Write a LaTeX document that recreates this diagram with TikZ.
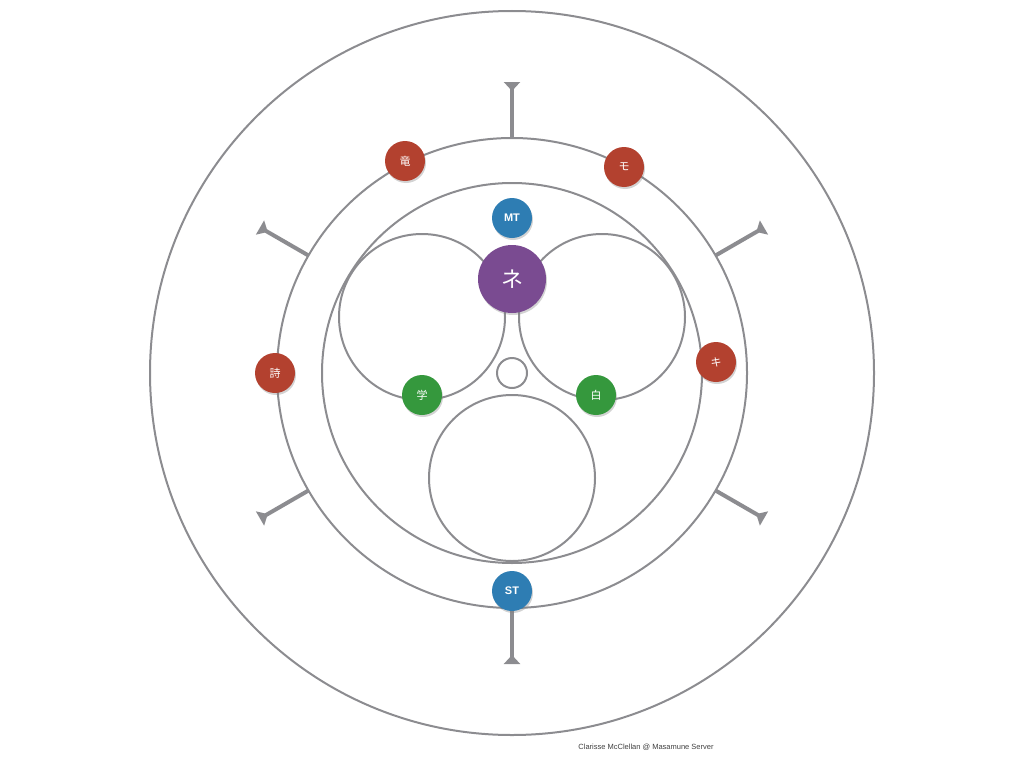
\documentclass[tikz,border=0pt]{standalone}
\usepackage{fontspec}
\setmainfont{Liberation Sans}
\newfontfamily\cjk{Noto Sans CJK JP}
\usetikzlibrary{arrows.meta,shadows}
\definecolor{ringgray}{HTML}{8C8C90}
\definecolor{nred}{HTML}{B3412F}
\definecolor{nblue}{HTML}{2E7DB3}
\definecolor{ngreen}{HTML}{35983D}
\definecolor{npurple}{HTML}{7A4B91}
\tikzset{
  ring/.style={draw=ringgray, line width=2pt},
  spoke/.style={draw=ringgray, line width=4pt, -{Triangle[reversed, width=16pt, length=9pt]}},
  dot/.style={circle, inner sep=0pt, minimum size=40pt, text=white,
    drop shadow={opacity=0.35, shadow xshift=1pt, shadow yshift=-2pt}},
  reddot/.style={dot, fill=nred, font=\cjk\fontsize{11}{11}\selectfont},
  greendot/.style={dot, fill=ngreen, font=\cjk\fontsize{11}{11}\selectfont},
  bluedot/.style={dot, fill=nblue, font=\bfseries\fontsize{11}{11}\selectfont},
  bigdot/.style={dot, fill=npurple, minimum size=68pt, font=\cjk\fontsize{22}{22}\selectfont}
}
\begin{document}
\begin{tikzpicture}[x=1pt, y=-1pt]
\useasboundingbox (0,0) rectangle (1024,768);
\coordinate (c) at (512,373);
% rings
\draw[ring] (c) circle[radius=362pt];
\draw[ring] (c) circle[radius=235pt];
\draw[ring] (c) circle[radius=190pt];
\draw[ring] (422,317) circle[radius=83pt];
\draw[ring] (602,317) circle[radius=83pt];
\draw[ring] (512,478) circle[radius=83pt];
\draw[ring] (c) circle[radius=15pt];
% spokes
\foreach \a/\n in {90/1,150/2,210/3,270/4,330/5,30/6}{
  \path (c) ++(\a:235pt) coordinate (s\n a) ++(\a:56pt) coordinate (s\n b);
  \draw[spoke] (s\n a) -- (s\n b);
}
% nodes
\node[bluedot] (mt) at (512,218) {MT};
\node[bigdot] (ne) at (512,279) {ネ};
\node[reddot] (ryu) at (405,161) {竜};
\node[reddot] (mo) at (624,167) {モ};
\node[reddot] (ki) at (716,362) {キ};
\node[reddot] (shi) at (275,373) {詩};
\node[greendot] (gaku) at (422,395) {学};
\node[greendot] (haku) at (596,395) {白};
\node[bluedot] (st) at (512,591) {ST};
\node[font=\fontsize{7.5}{8}\selectfont, text=black!75] (credit) at (646,747) {Clarisse McClellan @ Masamune Server};
\end{tikzpicture}
\end{document}
